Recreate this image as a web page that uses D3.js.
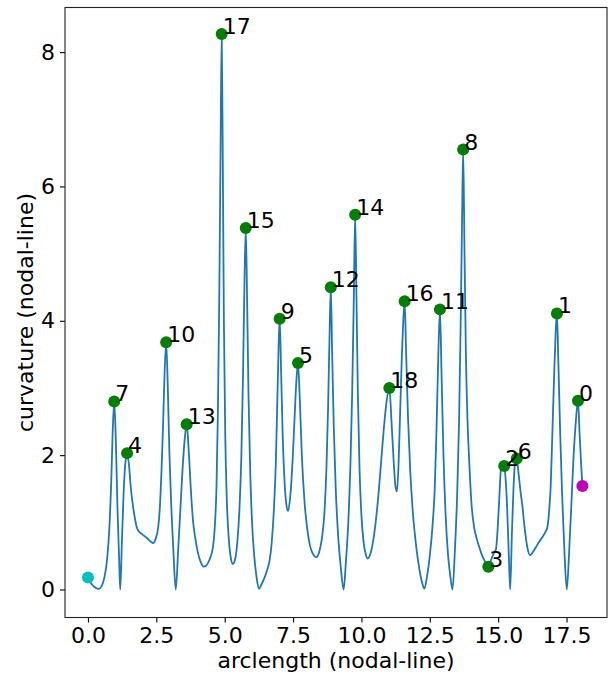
<!DOCTYPE html>
<html>
<head>
<meta charset="utf-8">
<script src="https://cdn.jsdelivr.net/npm/d3@7"></script>
<style>
  html, body { margin: 0; padding: 0; background: #fff; }
  svg { display: block; }
  text { font-family: "DejaVu Sans", sans-serif; }
</style>
</head>
<body>
<svg id="chart" width="608" height="680"></svg>
<script>
// ---- data ----
const curveX = [0, 0.1, 0.2, 0.3, 0.4, 0.5, 0.6, 0.7, 0.78, 0.85, 0.9, 0.96, 1.02, 1.08, 1.14, 1.18, 1.24, 1.30, 1.36, 1.43, 1.50, 1.57, 1.65, 1.72, 1.78, 1.87, 1.96, 2.08, 2.20, 2.30, 2.38, 2.47, 2.57, 2.64, 2.69, 2.75, 2.80, 2.86, 2.92, 2.98, 3.05, 3.12, 3.21, 3.30, 3.38, 3.46, 3.54, 3.61, 3.68, 3.76, 3.84, 3.93, 4.03, 4.13, 4.23, 4.33, 4.45, 4.57, 4.64, 4.70, 4.75, 4.80, 4.85, 4.89, 4.93, 4.97, 5.02, 5.08, 5.15, 5.22, 5.30, 5.38, 5.46, 5.54, 5.61, 5.67, 5.72, 5.77, 5.82, 5.87, 5.93, 6.00, 6.08, 6.16, 6.25, 6.35, 6.46, 6.56, 6.64, 6.72, 6.80, 6.87, 6.93, 6.97, 7.01, 7.06, 7.12, 7.19, 7.26, 7.32, 7.40, 7.48, 7.56, 7.62, 7.68, 7.74, 7.82, 7.92, 8.02, 8.12, 8.24, 8.35, 8.45, 8.55, 8.64, 8.72, 8.78, 8.83, 8.88, 8.93, 8.99, 9.06, 9.14, 9.24, 9.35, 9.43, 9.52, 9.60, 9.66, 9.72, 9.77, 9.82, 9.87, 9.93, 10.00, 10.08, 10.16, 10.23, 10.32, 10.42, 10.52, 10.62, 10.72, 10.82, 10.92, 11.02, 11.10, 11.18, 11.24, 11.30, 11.36, 11.42, 11.48, 11.53, 11.58, 11.63, 11.70, 11.78, 11.88, 12.00, 12.12, 12.22, 12.30, 12.40, 12.50, 12.60, 12.68, 12.74, 12.80, 12.87, 12.93, 13.00, 13.08, 13.17, 13.25, 13.33, 13.42, 13.50, 13.57, 13.63, 13.68, 13.72, 13.77, 13.82, 13.88, 13.94, 14.02, 14.12, 14.22, 14.31, 14.40, 14.50, 14.64, 14.75, 14.85, 14.92, 14.98, 15.04, 15.10, 15.16, 15.22, 15.28, 15.32, 15.39, 15.44, 15.50, 15.56, 15.62, 15.68, 15.74, 15.82, 15.89, 15.95, 16.01, 16.08, 16.16, 16.26, 16.38, 16.50, 16.62, 16.72, 16.80, 16.87, 16.92, 16.98, 17.04, 17.10, 17.15, 17.20, 17.27, 17.34, 17.42, 17.51, 17.60, 17.68, 17.76, 17.84, 17.92, 17.98, 18.03, 18.08];
const curveY = [0.18, 0.10, 0.05, 0.02, 0.01, 0.05, 0.18, 0.45, 0.9, 1.6, 2.3, 2.80, 2.2, 1.2, 0.45, 0.0, 0.7, 1.4, 1.85, 2.03, 1.85, 1.5, 1.23, 1.05, 0.93, 0.86, 0.83, 0.79, 0.75, 0.71, 0.69, 0.75, 0.93, 1.3, 1.78, 2.5, 3.2, 3.68, 3.0, 2.0, 1.2, 0.6, 0.0, 0.6, 1.2, 1.8, 2.25, 2.46, 2.1, 1.5, 1.03, 0.75, 0.53, 0.40, 0.34, 0.36, 0.45, 0.63, 0.95, 1.53, 2.6, 4.3, 6.6, 8.27, 6.4, 4.0, 2.3, 1.3, 0.75, 0.48, 0.38, 0.45, 0.7, 1.2, 2.0, 3.2, 4.5, 5.38, 4.3, 2.9, 1.8, 1.0, 0.5, 0.2, 0.01, 0.08, 0.18, 0.3, 0.43, 0.7, 1.2, 1.9, 2.9, 3.6, 4.03, 3.3, 2.3, 1.6, 1.25, 1.17, 1.4, 1.9, 2.6, 3.1, 3.37, 2.9, 2.0, 1.3, 0.9, 0.65, 0.52, 0.48, 0.55, 0.75, 1.1, 1.8, 2.7, 3.7, 4.50, 3.5, 2.4, 1.5, 0.85, 0.35, 0.0, 0.4, 1.0, 1.9, 2.9, 4.3, 5.58, 4.3, 2.9, 1.8, 1.1, 0.7, 0.52, 0.46, 0.52, 0.7, 1.0, 1.4, 1.9, 2.4, 2.8, 3.00, 2.5, 1.9, 1.55, 1.46, 1.9, 2.7, 3.5, 4.0, 4.29, 3.6, 2.6, 1.8, 1.15, 0.65, 0.3, 0.1, 0.01, 0.2, 0.5, 0.95, 1.5, 2.3, 3.3, 4.17, 3.2, 2.0, 1.1, 0.5, 0.2, 0.0, 0.6, 1.4, 2.5, 4.0, 5.5, 6.55, 5.0, 3.5, 2.5, 1.93, 1.3, 0.93, 0.75, 0.63, 0.52, 0.43, 0.34, 0.45, 0.55, 0.6, 0.9, 1.35, 1.78, 1.84, 1.84, 1.6, 1.3, 0.5, 0.0, 0.8, 1.5, 1.9, 1.95, 1.75, 1.45, 1.23, 0.98, 0.78, 0.6, 0.51, 0.55, 0.63, 0.71, 0.78, 0.85, 0.93, 1.2, 1.53, 2.3, 3.1, 3.8, 4.11, 3.4, 2.3, 1.4, 0.6, 0.0, 0.6, 1.3, 2.0, 2.5, 2.81, 2.3, 1.9, 1.54];

const peakLabels = ["7", "4", "10", "13", "17", "15", "9", "5", "12", "14", "18", "16", "11", "8", "3", "2", "6", "1", "0"];
const peakX = [0.96, 1.43, 2.86, 3.61, 4.89, 5.77, 7.01, 7.68, 8.88, 9.77, 11.02, 11.58, 12.87, 13.72, 14.64, 15.22, 15.68, 17.15, 17.92];
const peakY = [2.80, 2.03, 3.68, 2.46, 8.27, 5.38, 4.03, 3.37, 4.50, 5.58, 3.00, 4.29, 4.17, 6.55, 0.34, 1.84, 1.95, 4.11, 2.81];

const startPoint = [0, 0.18];
const endPoint = [18.08, 1.54];

const xTicks = [0, 2.5, 5, 7.5, 10, 12.5, 15, 17.5];
const yTicks = [0, 2, 4, 6, 8];
const xLabel = "arclength (nodal-line)";
const yLabel = "curvature (nodal-line)";

// ---- layout ----
const L = 65, R = 607, T = 7.5, B = 617.5;
const FONT = 22;

const svg = d3.select("#chart");
const x = d3.scaleLinear().domain([-0.84, 18.98]).range([L, R]);
const y = d3.scaleLinear().domain([-0.417, 8.664]).range([B, T]);

// clip
svg.append("defs").append("clipPath").attr("id", "clip")
  .append("rect").attr("x", L).attr("y", T).attr("width", R - L).attr("height", B - T);

const plot = svg.append("g").attr("clip-path", "url(#clip)");

const pts = curveX.map((d, i) => [d, curveY[i]]);
plot.append("path")
  .datum(pts)
  .attr("fill", "none")
  .attr("stroke", "#1f77b4")
  .attr("stroke-width", 1.8)
  .attr("stroke-linejoin", "round")
  .attr("d", d3.line().x(d => x(d[0])).y(d => y(d[1])).curve(d3.curveMonotoneX));

// markers
plot.append("circle").attr("cx", x(startPoint[0])).attr("cy", y(startPoint[1])).attr("r", 6).attr("fill", "#00bfbf");
plot.append("circle").attr("cx", x(endPoint[0])).attr("cy", y(endPoint[1])).attr("r", 6).attr("fill", "#bf00bf");

const peaks = peakLabels.map((l, i) => ({ l, x: peakX[i], y: peakY[i] }));
plot.selectAll("circle.pk").data(peaks).enter().append("circle")
  .attr("class", "pk")
  .attr("cx", d => x(d.x)).attr("cy", d => y(d.y)).attr("r", 6).attr("fill", "#008000");

svg.selectAll("text.pk").data(peaks).enter().append("text")
  .attr("class", "pk")
  .attr("x", d => x(d.x) + 1).attr("y", d => y(d.y))
  .attr("font-size", FONT).attr("fill", "#000")
  .text(d => d.l);

// axes
const xAxis = svg.append("g").attr("transform", `translate(0,${B})`)
  .call(d3.axisBottom(x).tickValues(xTicks).tickFormat(d3.format(".1f")).tickSize(5).tickPadding(5));
const yAxis = svg.append("g").attr("transform", `translate(${L},0)`)
  .call(d3.axisLeft(y).tickValues(yTicks).tickFormat(d3.format("d")).tickSize(5).tickPadding(5));
[xAxis, yAxis].forEach(a => {
  a.select(".domain").remove();
  a.selectAll("line").attr("stroke", "#000").attr("stroke-width", 1.1);
  a.selectAll("text").attr("font-size", FONT).attr("font-family", "DejaVu Sans, sans-serif").attr("fill", "#000");
});

// frame
svg.append("rect").attr("x", L).attr("y", T).attr("width", R - L).attr("height", B - T)
  .attr("fill", "none").attr("stroke", "#222").attr("stroke-width", 1.1);

// axis labels
svg.append("text").attr("x", (L + R) / 2).attr("y", 668)
  .attr("text-anchor", "middle").attr("font-size", FONT).text(xLabel);
svg.append("text").attr("transform", `translate(33,${(T + B) / 2}) rotate(-90)`)
  .attr("text-anchor", "middle").attr("font-size", FONT).text(yLabel);
</script>
</body>
</html>
